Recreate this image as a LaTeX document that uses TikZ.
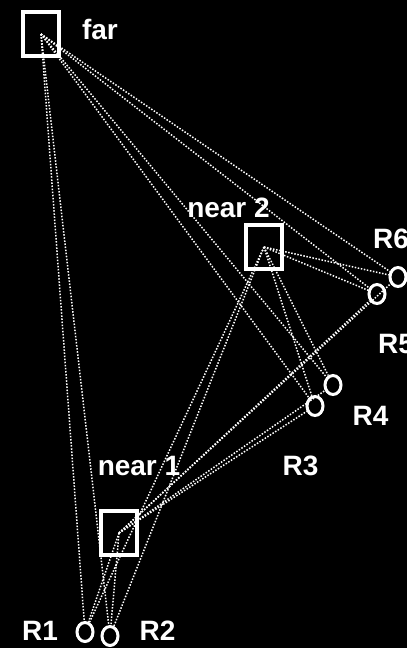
\documentclass[tikz,border=0pt]{standalone}
\usepackage{fontspec}
\setmainfont{Liberation Sans}
\usetikzlibrary{shapes.geometric}
\tikzset{
  sender/.style={draw=white, line width=4.5pt, rectangle, minimum width=36pt, minimum height=44pt, inner sep=0pt},
  recv/.style={draw=white, line width=3pt, ellipse, minimum width=16pt, minimum height=19pt, inner sep=0pt},
  link/.style={draw=white!90, line width=1.5pt, dash pattern=on 1.5pt off 1.6pt},
  lbl/.style={text=white, font=\fontsize{28}{30}\selectfont\bfseries, inner sep=0pt, anchor=base}
}
\begin{document}
\begin{tikzpicture}[x=1pt,y=-1pt]
\fill[black] (0,0) rectangle (407,648);
\useasboundingbox (0,0) rectangle (407,648);
% receivers
\node[recv] (R1) at (85,632) {};
\node[recv] (R2) at (110,636) {};
\node[recv] (R3) at (315,406) {};
\node[recv] (R4) at (333,385) {};
\node[recv] (R5) at (377,294) {};
\node[recv] (R6) at (398,277) {};
% sender centres
\coordinate (cf) at (41,34);
\coordinate (c2) at (264,247);
\coordinate (c1) at (119,533);
% links
\foreach \s in {cf,c2,c1}{
  \foreach \r in {R1,R2,R3,R4,R5,R6}{
    \draw[link] (\s) -- (\r);
  }
}
% senders
\node[sender] (far) at (cf) {};
\node[sender] (near2) at (c2) {};
\node[sender] (near1) at (c1) {};
% labels
\node[lbl] (lfar) at (100,39) {far};
\node[lbl] (lnear2) at (228.5,217) {near 2};
\node[lbl] (lnear1) at (139,475) {near 1};
\node[lbl] (lR1) at (40,640) {R1};
\node[lbl] (lR2) at (157.5,640) {R2};
\node[lbl] (lR3) at (300.5,475) {R3};
\node[lbl] (lR4) at (370.5,425) {R4};
\node[lbl, anchor=base west] (lR5) at (378,353) {R5};
\node[lbl, anchor=base west] (lR6) at (373,248) {R6};
\end{tikzpicture}
\end{document}
